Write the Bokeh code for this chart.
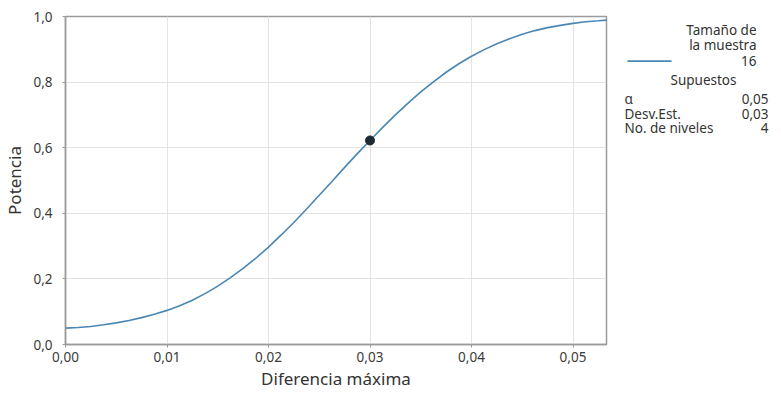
from bokeh.plotting import figure
from bokeh.layouts import row
from bokeh.models import Range1d, FixedTicker, Label
from bokeh.embed import file_html
from bokeh.resources import INLINE

# ---- data ----
diff = [0.0, 0.00125, 0.0025, 0.00375, 0.005, 0.00625, 0.0075, 0.00875,
        0.01, 0.01125, 0.0125, 0.01375, 0.015, 0.01625, 0.0175, 0.01875,
        0.02, 0.02125, 0.0225, 0.02375, 0.025, 0.02625, 0.0275, 0.02875,
        0.03, 0.03125, 0.0325, 0.03375, 0.035, 0.03625, 0.0375, 0.03875,
        0.04, 0.04125, 0.0425, 0.04375, 0.045, 0.04625, 0.0475, 0.04875,
        0.05, 0.05125, 0.0525, 0.0533]
power = [0.050, 0.052, 0.055, 0.060, 0.066, 0.073, 0.082, 0.092,
         0.104, 0.118, 0.135, 0.155, 0.178, 0.204, 0.232, 0.263,
         0.297, 0.334, 0.372, 0.413, 0.455, 0.497, 0.540, 0.582,
         0.622, 0.662, 0.700, 0.736, 0.770, 0.801, 0.830, 0.856,
         0.879, 0.899, 0.917, 0.932, 0.946, 0.957, 0.966, 0.973,
         0.979, 0.984, 0.987, 0.989]
point_x = [0.03]
point_y = [0.622]

x_ticks = [0.0, 0.01, 0.02, 0.03, 0.04, 0.05]
x_tick_labels = ["0,00", "0,01", "0,02", "0,03", "0,04", "0,05"]
y_ticks = [0.0, 0.2, 0.4, 0.6, 0.8, 1.0]
y_tick_labels = ["0,0", "0,2", "0,4", "0,6", "0,8", "1,0"]

legend_title = ["Tamaño de", "la muestra", "16"]
assump_title = "Supuestos"
assump_names = ["α", "Desv.Est.", "No. de niveles"]
assump_values = ["0,05", "0,03", "4"]

FONT = "Noto Sans"
CURVE = "#4a86b3"
TXT = "#333333"
H = 392
BT, BB = 16, 45

p = figure(width=609, height=H, output_backend="svg", toolbar_location=None,
           x_range=Range1d(0.0, 0.0533), y_range=Range1d(0.0, 1.0),
           min_border_left=63, min_border_right=3, min_border_top=BT, min_border_bottom=BB)

p.line(diff, power, line_color=CURVE, line_width=1.6)
p.scatter(point_x, point_y, size=9, fill_color="#1c2a33", line_color="#1c2a33")

p.xaxis.ticker = FixedTicker(ticks=x_ticks)
p.yaxis.ticker = FixedTicker(ticks=y_ticks)
p.xaxis.major_label_overrides = dict(zip(x_ticks, x_tick_labels))
p.yaxis.major_label_overrides = dict(zip(y_ticks, y_tick_labels))
p.xaxis.axis_label = "Diferencia máxima"
p.yaxis.axis_label = "Potencia"

for ax in (p.xaxis[0], p.yaxis[0]):
    ax.axis_line_color = "#9a9a9a"
    ax.axis_line_width = 1.5
    ax.major_tick_line_color = "#9a9a9a"
    ax.major_tick_in = 0
    ax.major_tick_out = 3
    ax.minor_tick_line_color = None
    ax.major_label_text_font = FONT
    ax.major_label_text_font_size = "13.5px"
    ax.major_label_text_color = "#3a3a3a"
    ax.axis_label_text_font = FONT
    ax.axis_label_text_font_style = "normal"
    ax.axis_label_text_font_size = "17px"
    ax.axis_label_text_color = TXT

p.xaxis.major_label_standoff = 4
p.xaxis.axis_label_standoff = 2
p.yaxis.major_label_standoff = 10
p.yaxis.axis_label_standoff = 4

p.xgrid.grid_line_color = "#e3e3e3"
p.ygrid.grid_line_color = "#e3e3e3"
p.outline_line_color = "#9a9a9a"
p.outline_line_width = 1.5
p.background_fill_color = "white"

# ---- legend / assumptions panel (coordinates in page pixels) ----
lg = figure(width=172, height=H, output_backend="svg", toolbar_location=None,
            x_range=Range1d(609, 781), y_range=Range1d(347, 16),
            min_border_left=0, min_border_right=0, min_border_top=BT, min_border_bottom=BB)
lg.axis.visible = False
lg.grid.visible = False
lg.outline_line_color = None

LFS = "13.5px"
for txt, yy in zip(legend_title, [30, 45, 61]):
    lg.add_layout(Label(x=756, y=yy, text=txt, text_align="right", text_baseline="middle",
                        text_font=FONT, text_font_size=LFS, text_color=TXT))
lg.line([627, 671], [61, 61], line_color=CURVE, line_width=1.6)

lg.add_layout(Label(x=703, y=80, text=assump_title, text_align="center", text_baseline="middle",
                    text_font=FONT, text_font_size=LFS, text_color=TXT))
for name, val, yy in zip(assump_names, assump_values, [99, 114, 129]):
    lg.add_layout(Label(x=624, y=yy, text=name, text_align="left", text_baseline="middle",
                        text_font=FONT, text_font_size=LFS, text_color=TXT))
    lg.add_layout(Label(x=768, y=yy, text=val, text_align="right", text_baseline="middle",
                        text_font=FONT, text_font_size=LFS, text_color=TXT))

layout = row(p, lg)
open("out.html", "w").write(file_html(layout, INLINE))
